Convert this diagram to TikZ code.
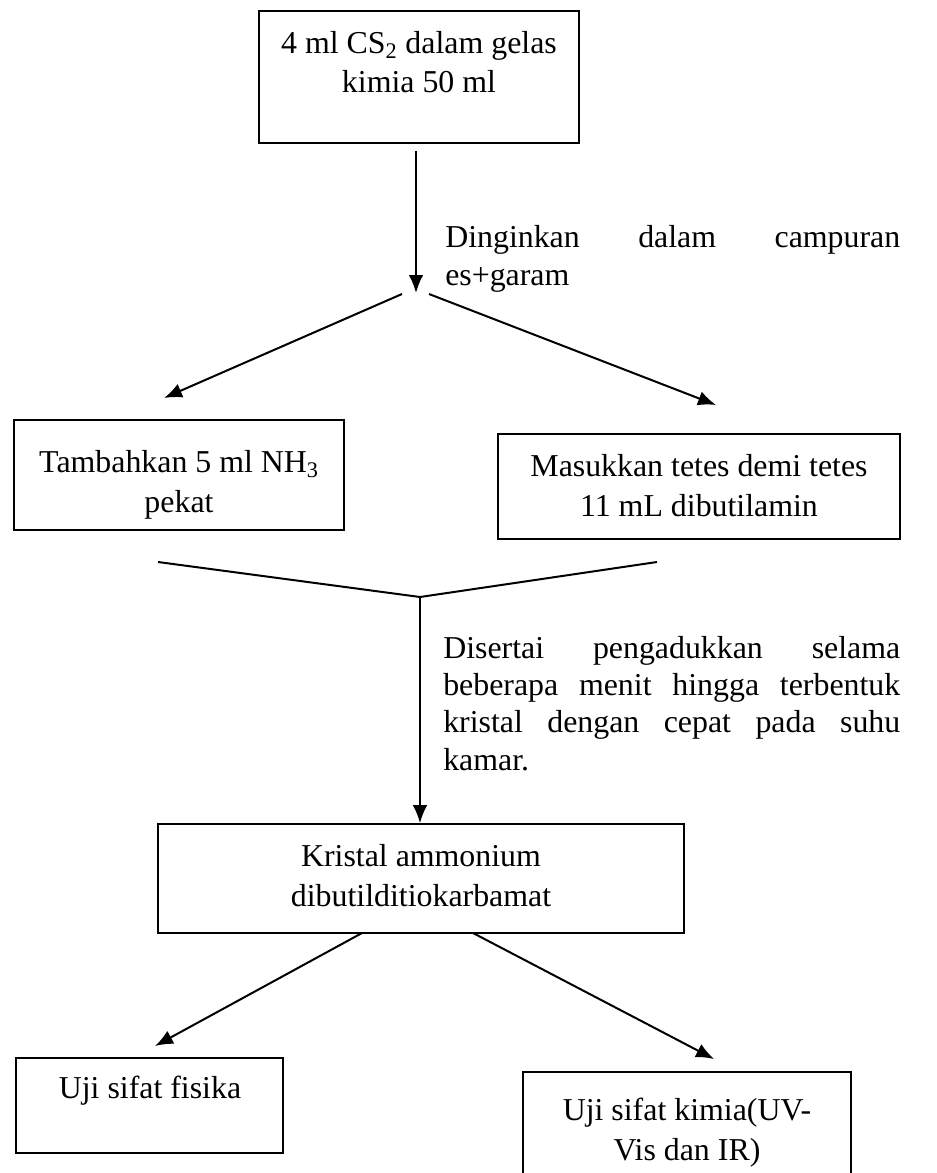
\documentclass[tikz,border=0pt]{standalone}
\usepackage{fontspec}
\setmainfont{Liberation Serif}
\usetikzlibrary{arrows.meta}
\begin{document}
\begin{tikzpicture}[x=0.75pt,y=-0.75pt,
  box/.style={draw,line width=1.3pt,inner sep=0pt},
  txt/.style={inner sep=0pt,align=center,anchor=base,font=\fontsize{23.9}{29.5}\selectfont},
  para/.style={inner sep=0pt,align=left,anchor=base west,font=\fontsize{23.9}{28}\selectfont},
  conn/.style={line width=1.5pt},
  arr/.style={line width=1.5pt,-{Latex[length=13.5pt,width=11pt]}}]
\useasboundingbox (0,0) rectangle (936,1173);
\clip (0,0) rectangle (936,1173);
% boxes (centre, size in px)
\node[box,minimum width=320*0.75pt,minimum height=132*0.75pt] (b1) at (419,77) {};
\node[box,minimum width=330*0.75pt,minimum height=110*0.75pt] (b2) at (179,475) {};
\node[box,minimum width=402*0.75pt,minimum height=105*0.75pt] (b3) at (699,486.5) {};
\node[box,minimum width=526*0.75pt,minimum height=109*0.75pt] (b4) at (421,878.5) {};
\node[box,minimum width=267*0.75pt,minimum height=95*0.75pt] (b5) at (149.5,1105.5) {};
\node[box,minimum width=328*0.75pt,minimum height=140*0.75pt] (b6) at (687,1142) {};
% texts (anchor = baseline of last line)
\node[txt] (t1) at (419,93) {4 ml CS\textsubscript{2} dalam gelas\\kimia 50 ml};
\node[txt] (t2) at (179,512) {Tambahkan 5 ml NH\textsubscript{3}\\pekat};
\node[txt] (t3) at (699,516) {Masukkan tetes demi tetes\\11 mL dibutilamin};
\node[txt] (t4) at (421,906) {Kristal ammonium\\dibutilditiokarbamat};
\node[txt] (t5) at (150,1098) {Uji sifat fisika};
\node[txt] (t6) at (687,1160) {Uji sifat kimia(UV-\\Vis dan IR)};
\node[para] (p1) at (445,285) {\makebox[455\dimexpr0.75pt][s]{Dinginkan dalam campuran}\\es+garam};
\node[para] (p2) at (443,770) {\makebox[457\dimexpr0.75pt][s]{Disertai pengadukkan selama}\\
  \makebox[457\dimexpr0.75pt][s]{beberapa menit hingga terbentuk}\\
  \makebox[457\dimexpr0.75pt][s]{kristal dengan cepat pada suhu}\\kamar.};
% connector points
\coordinate (s1) at (416,151);
\coordinate (e1) at (416,293);
\coordinate (d1) at (402,294);
\coordinate (d2) at (429,294);
\coordinate (l1) at (164,398);
\coordinate (r1) at (716,405);
\coordinate (c1) at (158,562);
\coordinate (c2) at (657,562);
\coordinate (m) at (420,597);
\coordinate (f1) at (362,933);
\coordinate (f2) at (473,933);
\coordinate (l2) at (155,1046);
\coordinate (r2) at (714,1059);
% connectors
\draw[arr] (s1) -- (e1);
\draw[arr] (d1) -- (l1);
\draw[arr] (d2) -- (r1);
\draw[conn] (c1) -- (m) -- (c2);
\draw[arr] (m) -- (b4.north -| m);
\draw[arr] (f1) -- (l2);
\draw[arr] (f2) -- (r2);
\end{tikzpicture}
\end{document}
